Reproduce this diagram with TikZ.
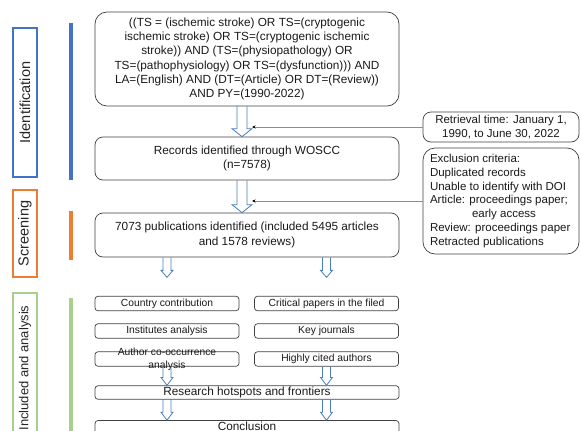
\documentclass[tikz,border=0pt]{standalone}
\usepackage{fontspec}
\setmainfont{Liberation Sans}
\usetikzlibrary{arrows.meta,calc}

\definecolor{idblue}{HTML}{4472C4}
\definecolor{scrorange}{HTML}{ED7D31}
\definecolor{incgreen}{HTML}{A9D18E}
\definecolor{arrowblue}{HTML}{4A7EBB}
\definecolor{boxgray}{HTML}{404040}

% hollow block arrow pointing down: start, tip, shaft half width, head half width, head length
\newcommand{\blockdown}[5]{%
  \draw[hollow] let \p1=(#1), \p2=(#2) in
    (\x1-#3pt,\y1) -- (\x1-#3pt,\y2+#5pt) -- (\x1-#4pt,\y2+#5pt) -- (\x1,\y2)
    -- (\x1+#4pt,\y2+#5pt) -- (\x1+#3pt,\y2+#5pt) -- (\x1+#3pt,\y1);
}

\begin{document}
\begin{tikzpicture}[x=1pt, y=-1pt, >=Stealth,
  stagebox/.style={draw, line width=1.6pt, rotate=90, minimum height=24pt,
    inner sep=0pt, text=black!85, font=\fontsize{14.5}{16}\selectfont},
  flowbox/.style={draw=boxgray, line width=0.7pt, align=center, inner sep=2pt,
    text=black!90, font=\fontsize{11.8}{14.2}\selectfont},
  smallbox/.style={draw=boxgray, line width=0.7pt, rounded corners=3pt,
    minimum width=144pt, minimum height=14.5pt, inner sep=0pt, text=black!90,
    font=\fontsize{10.3}{12.4}\selectfont},
  hollow/.style={draw=arrowblue, line width=0.8pt},
  sideline/.style={draw=black!45, line width=0.7pt, -{Stealth[length=3.5pt,width=3pt,black]}}]

\useasboundingbox (0,0) rectangle (581,431);
\clip (0,0) rectangle (581,431);

% Stages
\node[stagebox, draw=idblue, minimum width=149pt] (ident) at (25,102.5) {Identification};
\node[stagebox, draw=scrorange, minimum width=87pt] (screen) at (25,233.5) {Screening};
\node[stagebox, draw=incgreen, minimum width=150pt, font=\fontsize{13}{15}\selectfont] (incl) at (25,368) {Included and analysis};

\draw[idblue, line width=3.5pt] (71,23) -- (71,180);
\draw[scrorange, line width=3.5pt] (71,211) -- (71,260);
\draw[incgreen, line width=3.5pt] (71,298) -- (71,440);

% Search and screening
\node[flowbox, rounded corners=12pt, minimum width=304pt, minimum height=94pt] (query) at (247,59)
  {((TS = (ischemic stroke) OR TS=(cryptogenic\\
   ischemic stroke) OR TS=(cryptogenic ischemic\\
   stroke)) AND (TS=(physiopathology) OR\\
   TS=(pathophysiology) OR TS=(dysfunction))) AND\\
   LA=(English) AND (DT=(Article) OR DT=(Review))\\
   AND PY=(1990-2022)};
\node[flowbox, rounded corners=8pt, minimum width=304pt, minimum height=43pt] (records) at (247,158.5)
  {Records identified through WOSCC\\(n=7578)};
\node[flowbox, rounded corners=8pt, minimum width=304pt, minimum height=44pt] (pubs) at (247,235)
  {7073 publications identified (included 5495 articles\\and 1578 reviews)};

\node[flowbox, rounded corners=8pt, minimum width=156pt, minimum height=30pt,
  font=\fontsize{11.5}{13.8}\selectfont] (retrieval) at (501,127)
  {Retrieval time: January 1,\\1990, to June 30, 2022};
\node[flowbox, rounded corners=12pt, align=flush left, text width=142pt, inner xsep=7pt,
  minimum height=106pt, font=\fontsize{11.5}{13.8}\selectfont] (exclusion) at (501,201)
  {Exclusion criteria:\\
   Duplicated records\\
   Unable to identify with DOI\\
   Article: proceedings paper;\\
   \hspace*{42pt}early access\\
   Review: proceedings paper\\
   Retracted publications};

\blockdown{$(query.south)+(-5,0)$}{records.north}{5}{10}{8}
\blockdown{$(records.south)+(-5,0)$}{pubs.north}{5}{10}{8}
\draw[sideline] (retrieval.west) -- ($(retrieval.west -| query.south)+(5,0)$);
\draw[sideline] (exclusion.west) -- ($(exclusion.west -| query.south)+(5,0)$);

% Analysis
\node[smallbox] (country) at (167,303.5) {Country contribution};
\node[smallbox] (critical) at (326.5,303.5) {Critical papers in the filed};
\node[smallbox] (institutes) at (167,331) {Institutes analysis};
\node[smallbox] (journals) at (326.5,331) {Key journals};
\node[smallbox] (author) at (167,359)
  {\raisebox{-3pt}[0pt][0pt]{\begin{tabular}{@{}c@{}}Author co-occurrence\\[0.6pt]analysis\end{tabular}}};
\node[smallbox] (cited) at (326.5,359) {Highly cited authors};

\node[flowbox, rounded corners=3pt, minimum width=304pt, minimum height=13.5pt, inner ysep=0pt,
  text height=8.5pt, text depth=2.5pt] (research) at (247,392.5) {Research hotspots and frontiers};
\node[flowbox, rounded corners=3pt, minimum width=304pt, minimum height=13.5pt, inner ysep=0pt,
  text height=8.5pt, text depth=2.5pt] (conclusion) at (247,427.3) {Conclusion};

\blockdown{pubs.south -| country.north}{$(pubs.south -| country.north)+(0,20)$}{4}{6}{7}
\blockdown{pubs.south -| critical.north}{$(pubs.south -| critical.north)+(0,20)$}{4}{6}{7}
\blockdown{author.south}{research.north -| author.south}{4}{6}{8}
\blockdown{cited.south}{research.north -| cited.south}{4}{6}{8}
\blockdown{research.south -| author.south}{conclusion.north -| author.south}{4}{6}{8}
\blockdown{research.south -| cited.south}{conclusion.north -| cited.south}{4}{6}{8}
\end{tikzpicture}
\end{document}
